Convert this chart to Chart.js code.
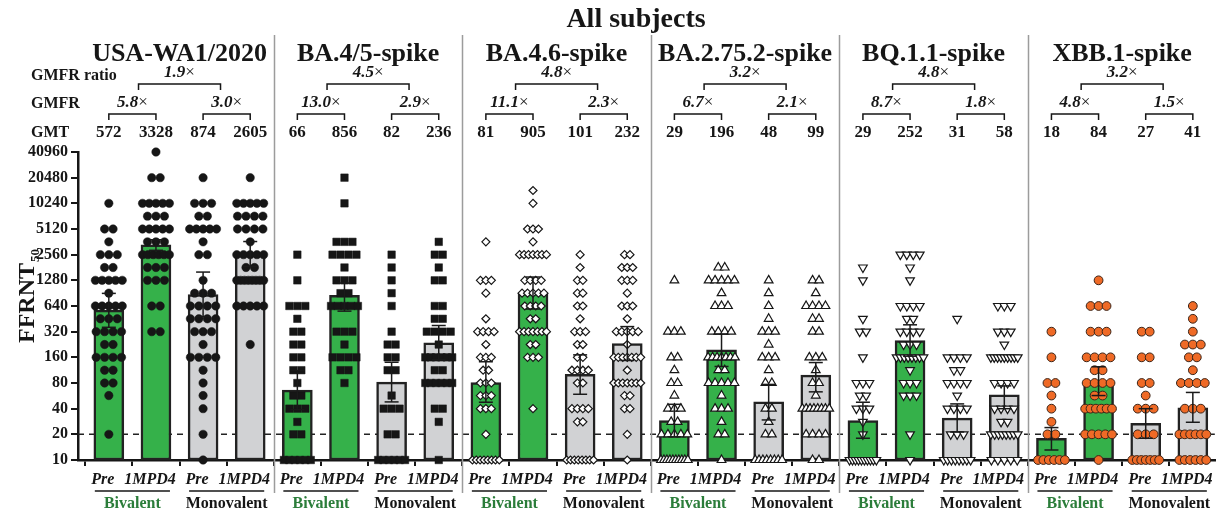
<!DOCTYPE html>
<html><head><meta charset="utf-8">
<script src="https://cdn.jsdelivr.net/npm/chart.js@4"></script>
<style>html,body{margin:0;padding:0;background:#fff}#wrap{width:1221px;height:515px;position:relative}</style>
</head><body><div id="wrap"><canvas id="c"></canvas></div>
<script>
// ---------------- data ----------------
const mainTitle = 'All subjects';
const panelTitles = ['USA-WA1/2020','BA.4/5-spike','BA.4.6-spike','BA.2.75.2-spike','BQ.1.1-spike','XBB.1-spike'];
const categories = ['Pre','1MPD4','Pre','1MPD4','Pre','1MPD4','Pre','1MPD4','Pre','1MPD4','Pre','1MPD4',
                    'Pre','1MPD4','Pre','1MPD4','Pre','1MPD4','Pre','1MPD4','Pre','1MPD4','Pre','1MPD4'];
const groupLabels = ['Bivalent','Monovalent'];
const rowLabels = ['GMFR ratio','GMFR','GMT'];
const gmt    = [572,3328,874,2605, 66,856,82,236, 81,905,101,232, 29,196,48,99, 29,252,31,58, 18,84,27,41];
const ciLow  = [360,2880,480,1860, 39,557,48,150, 47.6,590,59,147, 18.7,125,29.5,63, 18,165,21.3,40, 13.1,57,18,27.7];
const ciHigh = [900,3830,1600,3650, 112,1190,140,378, 142,1400,171,367, 45,300,77,139, 47.6,385,45.5,74, 24,124,40,62];
const gmfr = ['5.8','3.0','13.0','2.9','11.1','2.3','6.7','2.1','8.7','1.8','4.8','1.5'];
const gmfrRatio = ['1.9','4.5','4.8','3.2','4.8','3.2'];
const yTicks = [10,20,40,80,160,320,640,1280,2560,5120,10240,20480,40960];
const detectionLimit = 20;

// individual titers per group as [titer, number of subjects]
const wa1Points = [
  [[10240,1],[5120,2],[3620,1],[2560,3],[1810,2],[1280,5],[905,1],[640,5],[453,3],[320,4],[226,2],[160,4],[113,2],[80,2],[57,1],[20,1]],
  [[40960,1],[20480,2],[10240,5],[7240,3],[5120,5],[3620,3],[2560,6],[1810,3],[1280,3],[640,2],[320,2]],
  [[20480,1],[10240,3],[7240,2],[5120,5],[3620,1],[2560,2],[1280,1],[905,3],[640,4],[453,4],[320,3],[226,1],[160,4],[113,1],[80,1],[57,1],[40,1],[20,1],[10,1]],
  [[20480,1],[10240,5],[7240,4],[5120,4],[3620,1],[2560,5],[1810,2],[1280,8],[640,5],[226,1]]
];
const ba45Points = [
  [[2560,1],[1280,1],[640,3],[453,1],[320,2],[226,2],[160,2],[113,2],[80,1],[57,2],[40,3],[28,1],[20,2],[10,6]],
  [[20480,1],[10240,1],[3620,3],[2560,4],[1810,1],[1280,3],[905,2],[640,5],[320,3],[226,1],[160,4],[113,2],[80,1]],
  [[2560,1],[1810,1],[1280,1],[905,1],[640,1],[320,1],[226,2],[160,2],[113,2],[57,1],[40,3],[20,2],[10,6]],
  [[3620,1],[2560,2],[1810,1],[1280,2],[640,2],[453,2],[320,4],[226,1],[160,6],[113,2],[80,6],[40,2],[28,1],[10,1]]
];
const ba46Points = [
  [[3620,1],[1280,3],[905,1],[453,1],[320,4],[226,1],[160,3],[113,2],[80,3],[57,3],[40,3],[20,1],[10,8]],
  [[14480,1],[10240,1],[5120,3],[3620,1],[2560,7],[1280,4],[905,5],[640,4],[453,2],[320,7],[226,2],[160,3],[40,1]],
  [[2560,1],[1810,1],[1280,2],[905,2],[640,2],[453,1],[320,3],[226,2],[160,2],[113,4],[80,2],[40,4],[28,2],[10,8]],
  [[2560,2],[1810,3],[1280,3],[905,1],[640,3],[453,1],[320,5],[226,1],[160,7],[113,1],[80,7],[57,2],[40,2],[20,1],[10,1]]
];
const ba2752Points = [
  [[1280,1],[320,3],[160,2],[113,1],[80,2],[57,1],[40,3],[28,2],[20,5],[10,10]],
  [[1810,2],[1280,5],[905,1],[640,3],[320,4],[160,7],[113,2],[80,5],[57,1],[40,3],[28,1],[20,2],[10,1]],
  [[1280,1],[905,1],[640,1],[453,1],[320,3],[226,1],[160,3],[113,1],[80,2],[40,2],[28,1],[20,2],[10,8]],
  [[1280,2],[905,1],[640,4],[453,2],[320,2],[160,3],[113,1],[80,2],[57,1],[40,8],[20,4],[10,2]]
];
const bq11Points = [
  [[1810,1],[1280,1],[453,1],[320,2],[160,1],[80,3],[57,2],[40,3],[28,1],[20,1],[10,10]],
  [[2560,4],[1810,1],[1280,1],[640,4],[453,2],[320,4],[226,3],[160,8],[113,1],[80,3],[57,3],[20,1],[10,1]],
  [[453,1],[160,4],[113,2],[80,4],[57,1],[40,4],[20,3],[10,8]],
  [[640,3],[320,3],[226,1],[160,9],[80,4],[40,4],[28,2],[20,8],[10,5]]
];
const xbb1Points = [
  [[320,1],[160,1],[80,2],[57,1],[40,1],[28,1],[20,2],[10,6]],
  [[1280,1],[640,3],[320,3],[160,4],[113,2],[80,4],[57,2],[40,6],[20,5],[10,1]],
  [[320,2],[160,2],[80,2],[57,1],[40,3],[20,3],[10,7]],
  [[640,1],[453,1],[320,1],[226,3],[160,2],[113,1],[80,4],[40,3],[20,6],[10,6]]
];
const panelPoints = [wa1Points, ba45Points, ba46Points, ba2752Points, bq11Points, xbb1Points];

// ---------------- styles ----------------
const FONT = '"Liberation Serif","Times New Roman",serif';
const GREEN = '#35b14a', GRAY = '#d1d2d4', INK = '#161616', GREEN_TXT = '#2b7d3a';
const X_MIN = -0.654, X_MAX = 23.466;
const PX_PER_UNIT = (1221 - 78) / (X_MAX - X_MIN);
const markers = [
  {style:'circle',   r:4.2, bg:INK,    bd:INK,       bw:0.5, step:8.5, rot:0},
  {style:'rect',     r:5.3, bg:INK,    bd:INK,       bw:0.5, step:8,   rot:0},
  {style:'rectRot',  r:4,   bg:'#fff', bd:INK,       bw:1.2, step:5.5, rot:0},
  {style:'triangle', r:5,   bg:'#fff', bd:INK,       bw:1.2, step:6.5, rot:0},
  {style:'triangle', r:5,   bg:'#fff', bd:INK,       bw:1.2, step:6.5, rot:180},
  {style:'circle',   r:4.4, bg:'#ef6a26', bd:'#3a2418', bw:1, step:8, rot:0}
];

function swarm(gi, pairs, step) {
  const out = [];
  pairs.forEach(([v, n]) => {
    const s = n > 1 ? Math.min(step, 27 / (n - 1)) : 0;
    for (let k = 0; k < n; k++) {
      const dx = (k - (n - 1) / 2) * s;
      out.push({x: gi + dx / PX_PER_UNIT, y: v});
    }
  });
  return out;
}

const datasets = [];
datasets.push({
  type: 'bar', order: 30,
  data: gmt.map((v, i) => ({x: i, y: [10, v]})),
  backgroundColor: gmt.map((v, i) => (i % 4 < 2 ? GREEN : GRAY)),
  borderColor: '#222', borderWidth: 2.5, borderSkipped: false,
  barThickness: 30, grouped: false
});
panelPoints.forEach((groups, p) => {
  const m = markers[p];
  let pts = [];
  groups.forEach((pairs, g) => { pts = pts.concat(swarm(p * 4 + g, pairs, m.step)); });
  datasets.push({
    type: 'scatter', order: 20, clip: false, data: pts,
    pointStyle: m.style, pointRadius: m.r, pointHoverRadius: m.r,
    pointBackgroundColor: m.bg, pointBorderColor: m.bd, pointBorderWidth: m.bw,
    pointRotation: m.rot
  });
});

function text(ctx, s, x, y, font, align, color) {
  ctx.font = font; ctx.textAlign = align || 'center'; ctx.textBaseline = 'alphabetic';
  ctx.fillStyle = color || INK; ctx.fillText(s, x, y);
}
function line(ctx, pts, w, color) {
  ctx.beginPath(); ctx.moveTo(pts[0][0], pts[0][1]);
  for (let i = 1; i < pts.length; i++) ctx.lineTo(pts[i][0], pts[i][1]);
  ctx.lineWidth = w; ctx.strokeStyle = color || INK; ctx.stroke();
}
function timesText(ctx, num, x, y, size) {
  const f1 = 'italic bold ' + size + 'px ' + FONT, f2 = size + 'px ' + FONT;
  ctx.font = f1; const w1 = ctx.measureText(num).width;
  ctx.font = f2; const w2 = ctx.measureText('×').width;
  const x0 = x - (w1 + w2) / 2;
  text(ctx, num, x0, y, f1, 'left');
  text(ctx, '×', x0 + w1, y, f2, 'left');
}

const annot = {
  id: 'annot',
  beforeDatasetsDraw(chart) {
    const {ctx, chartArea: a, scales: {y}} = chart;
    ctx.save();
    ctx.setLineDash([6, 5]);
    const yy = y.getPixelForValue(detectionLimit);
    line(ctx, [[a.left, yy], [a.right, yy]], 1.5, '#222');
    ctx.restore();
  },
  afterDatasetsDraw(chart) {
    const {ctx, scales: {x, y}} = chart;
    ctx.save();
    gmt.forEach((v, i) => {
      const cx = x.getPixelForValue(i);
      const yl = y.getPixelForValue(ciLow[i]), yh = y.getPixelForValue(ciHigh[i]);
      line(ctx, [[cx, yl], [cx, yh]], 1.5, '#1a1a1a');
      line(ctx, [[cx - 7, yh], [cx + 7, yh]], 1.5, '#1a1a1a');
      line(ctx, [[cx - 7, yl], [cx + 7, yl]], 1.5, '#1a1a1a');
    });
    ctx.restore();
  },
  afterDraw(chart) {
    const {ctx, scales: {x}} = chart;
    const px = v => x.getPixelForValue(v);
    ctx.save();
    // separators
    for (let p = 0; p < 5; p++) {
      const sx = Math.round(px(p * 4 + 3.5)) + 0.5;
      line(ctx, [[sx, 35], [sx, 493]], 1.5, '#9c9c9c');
    }
    text(ctx, mainTitle, 636, 27, 'bold 28px ' + FONT);
    text(ctx, rowLabels[0], 31, 80, 'bold 16px ' + FONT, 'left');
    text(ctx, rowLabels[1], 31, 108, 'bold 16px ' + FONT, 'left');
    text(ctx, rowLabels[2], 31, 137, 'bold 16px ' + FONT, 'left');
    panelTitles.forEach((t, p) => {
      const c = px(p * 4 + 1.5);
      text(ctx, t, c, 61, 'bold 26px ' + FONT);
      timesText(ctx, gmfrRatio[p], c, 77, 17);
      line(ctx, [[c - 41, 90], [c - 41, 84], [c + 41, 84], [c + 41, 90]], 1.5);
      for (let g = 0; g < 2; g++) {
        const a = px(p * 4 + g * 2), b = px(p * 4 + g * 2 + 1);
        timesText(ctx, gmfr[p * 2 + g], (a + b) / 2, 107, 17);
        line(ctx, [[a, 120], [a, 114], [b, 114], [b, 120]], 1.5);
        text(ctx, String(gmt[p * 4 + g * 2]), a, 137, 'bold 17px ' + FONT);
        text(ctx, String(gmt[p * 4 + g * 2 + 1]), b, 137, 'bold 17px ' + FONT);
        line(ctx, [[a - 14, 491], [b + 14, 491]], 1.5);
        text(ctx, groupLabels[g], (a + b) / 2, 508, 'bold 16px ' + FONT, 'center', g === 0 ? GREEN_TXT : INK);
      }
    });
    // y-axis title with subscript
    ctx.translate(34, 343);
    ctx.rotate(-Math.PI / 2);
    ctx.font = 'bold 24px ' + FONT;
    const w = ctx.measureText('FFRNT').width;
    text(ctx, 'FFRNT', 0, 0, 'bold 24px ' + FONT, 'left');
    text(ctx, '50', w + 1, 5, 'bold 13px ' + FONT, 'left');
    ctx.restore();
  }
};

new Chart(document.getElementById('c'), {
  type: 'bar',
  data: {datasets},
  plugins: [annot],
  options: {
    responsive: true, maintainAspectRatio: false, animation: false, devicePixelRatio: 1,
    layout: {padding: {top: 152, left: 0, right: 0, bottom: 0}},
    plugins: {legend: {display: false}, tooltip: {enabled: false}},
    scales: {
      x: {
        type: 'linear', min: X_MIN, max: X_MAX, offset: false,
        afterBuildTicks: s => { s.ticks = categories.map((c, i) => ({value: i})); },
        afterFit: s => { s.height = 55; s.paddingLeft = 0; s.paddingRight = 0; },
        ticks: {autoSkip: false, maxRotation: 0, padding: 4, labelOffset: -6,
                callback: (v, i) => categories[i],
                font: {family: FONT, size: 16, weight: 'bold', style: 'italic'}, color: INK},
        grid: {drawOnChartArea: false, drawTicks: true, tickLength: 6, color: INK, lineWidth: 2},
        border: {display: true, color: INK, width: 2.5}
      },
      y: {
        type: 'logarithmic', min: 10, max: 40960,
        afterBuildTicks: s => { s.ticks = yTicks.map(v => ({value: v})); },
        afterFit: s => { s.width = 78; s.paddingTop = 0; s.paddingBottom = 0; },
        ticks: {autoSkip: false, padding: 3, callback: v => String(v),
                font: {family: FONT, size: 16, weight: 'bold'}, color: INK},
        grid: {drawOnChartArea: false, drawTicks: true, tickLength: 7, color: INK, lineWidth: 2},
        border: {display: true, color: INK, width: 2.5}
      }
    }
  }
});
</script>
</body></html>
